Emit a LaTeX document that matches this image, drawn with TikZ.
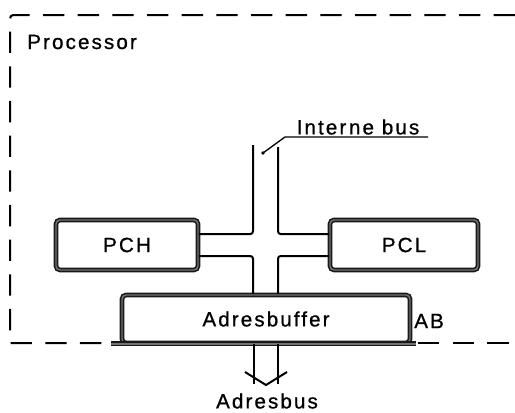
\documentclass[tikz,border=0pt]{standalone}
\usepackage{fontspec}
\setmainfont{Liberation Sans}[LetterSpace=10, FakeBold=0.8]
\begin{document}
\begin{tikzpicture}[x=0.75pt,y=-0.75pt,
  lbl/.style={inner sep=0pt, font=\fontsize{15.5}{18}\selectfont},
  boxst/.style={draw=black!90, double=black!55, double distance=1.1pt, line width=1.2pt,
    rounded corners=3pt, inner sep=0pt, font=\fontsize{15.5}{18}\selectfont},
  frame/.style={line width=1.5pt, dash pattern=on 16pt off 10pt},
  bus/.style={line width=1.5pt, rounded corners=2pt},
  leader/.style={line width=1pt}]
\useasboundingbox (0,0) rectangle (515,412);

% frame
\draw[frame] (515,15) -- (13,15) to[out=180,in=90] (10,19) -- (10,343) -- (112,343);
\draw[frame] (418,343) -- (515,343);
\node[lbl, anchor=west] (proc) at (27,42) {Processor};

% boxes
\node[boxst, minimum width=106.5pt, minimum height=37.5pt] (pch) at (127,245) {PCH};
\node[boxst, minimum width=111pt, minimum height=37.5pt] (pcl) at (404,245) {PCL};
\node[boxst, minimum width=216pt, minimum height=36pt] (ab) at (266,319) {Adresbuffer};
\draw[draw=black!90, double=black!55, double distance=1.1pt, line width=1.2pt]
  ([xshift=-7.5pt]ab.south west) -- ([xshift=4pt]ab.south east);
\node[lbl, anchor=west] (abl) at (414,321) {AB};

% internal bus
\coordinate (bustopL) at (253,145);
\coordinate (bustopR) at (278,147);
\draw[bus] ([yshift=8.25pt]pch.east) -| (bustopL);
\draw[bus] ([yshift=8.25pt]pcl.west) -| (bustopR);
\draw[bus] ([yshift=-8.25pt]pch.east) -| ([xshift=-9.75pt]ab.north);
\draw[bus] ([yshift=-8.25pt]pcl.west) -| ([xshift=9pt]ab.north);

% label interne bus
\node[lbl] (ib) at (358,127) {Inter\kern2pt ne bus};
\coordinate (dot) at (263,153);
\coordinate (ulL) at (285,137);
\coordinate (ulR) at (428,137);
\fill (dot) circle (1.8);
\draw[leader] (dot) -- (ulL) -- (ulR);

% address bus
\coordinate (adL) at (254,384);
\coordinate (adR) at (278,384);
\draw[line width=1.5pt] ([xshift=-9pt]ab.south) -- (adL);
\draw[line width=1.5pt] ([xshift=9pt]ab.south) -- (adR);
\coordinate (vL) at (245,372);
\coordinate (vM) at (266,385);
\coordinate (vR) at (287,372);
\draw[line width=1.5pt] (vL) -- (vM) -- (vR);
\node[lbl] (adb) at (267,401) {Adresbus};
\end{tikzpicture}
\end{document}
